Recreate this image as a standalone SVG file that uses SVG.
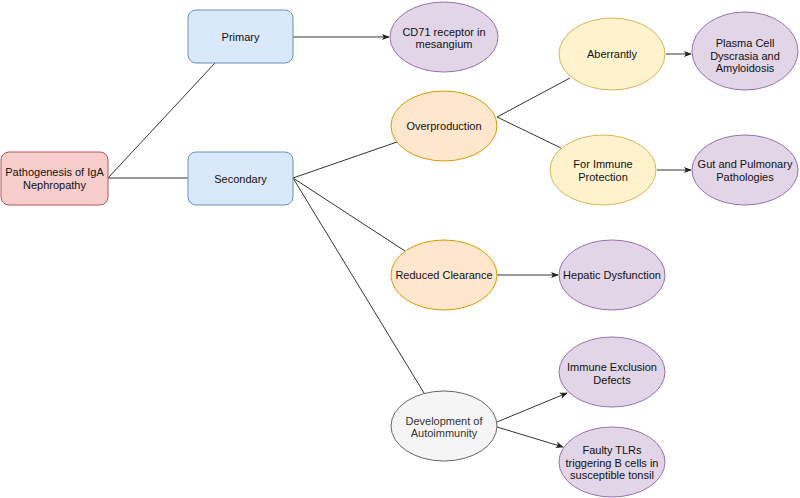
<svg xmlns="http://www.w3.org/2000/svg" width="800" height="498" viewBox="0 0 800 498">
<defs>
<marker id="arr" viewBox="0 0 10 10" refX="9" refY="5" markerWidth="8" markerHeight="8" markerUnits="userSpaceOnUse" orient="auto">
<path d="M0,1 L10,5 L0,9 L2.5,5 Z" fill="#222"/>
</marker>
<style>
text{font-family:"Liberation Sans",Arial,sans-serif;font-size:11px;fill:#111;text-anchor:middle;dominant-baseline:central}
.red{fill:#f8cecc;stroke:#b85450}
.blue{fill:#dae8fc;stroke:#6c8ebf}
.orange{fill:#ffe6cc;stroke:#d79b00}
.yellow{fill:#fff2cc;stroke:#d6b656}
.purple{fill:#e1d5e7;stroke:#9673a6}
.gray{fill:#f5f5f5;stroke:#666666}
.gt{fill:#333}
.edge{stroke:#333;stroke-width:1;fill:none}
.arrow{marker-end:url(#arr)}
</style>
</defs>
<rect width="800" height="498" fill="#fff"/>
<g id="connectors">
<path class="edge" d="M108,178 L215,63"/>
<path class="edge" d="M108,178 L188,178"/>
<path class="edge arrow" d="M293,37 L389,37"/>
<path class="edge" d="M293,178 L397,142"/>
<path class="edge" d="M293,178 L405,251"/>
<path class="edge" d="M293,178 L424,393"/>
<path class="edge" d="M497,117 L570,78"/>
<path class="edge" d="M497,117 L561,148"/>
<path class="edge arrow" d="M666,54 L691,54"/>
<path class="edge arrow" d="M657,170 L691,170"/>
<path class="edge arrow" d="M497,275 L558,275"/>
<path class="edge arrow" d="M497,422 L567,393"/>
<path class="edge arrow" d="M497,427 L563,447"/>
</g>
<g id="pathogenesis">
<rect class="red" x="1" y="152" width="107" height="53" rx="8"/>
<text x="54.5" y="172">Pathogenesis of IgA</text>
<text x="54.5" y="185">Nephropathy</text>
</g>
<g id="primary">
<rect class="blue" x="188" y="10" width="105" height="53" rx="8"/>
<text x="240.5" y="36.5">Primary</text>
</g>
<g id="secondary">
<rect class="blue" x="188" y="152" width="105" height="53" rx="8"/>
<text x="240.5" y="178.5">Secondary</text>
</g>
<g id="cd71">
<ellipse class="purple" cx="444" cy="37" rx="54" ry="35"/>
<text x="444" y="31.5">CD71 receptor in</text>
<text x="444" y="43.5">mesangium</text>
</g>
<g id="overproduction">
<ellipse class="orange" cx="444" cy="126" rx="53" ry="35"/>
<text x="444" y="126">Overproduction</text>
</g>
<g id="aberrantly">
<ellipse class="yellow" cx="612" cy="54" rx="53" ry="36"/>
<text x="612" y="54">Aberrantly</text>
</g>
<g id="plasma">
<ellipse class="purple" cx="745" cy="51" rx="53" ry="39"/>
<text x="745" y="43">Plasma Cell</text>
<text x="745" y="55.5">Dyscrasia and</text>
<text x="745" y="68">Amyloidosis</text>
</g>
<g id="immune-protection">
<ellipse class="yellow" cx="603" cy="170" rx="53" ry="35"/>
<text x="603" y="164">For Immune</text>
<text x="603" y="176.5">Protection</text>
</g>
<g id="gut">
<ellipse class="purple" cx="745" cy="170" rx="53" ry="35"/>
<text x="745" y="164">Gut and Pulmonary</text>
<text x="745" y="176.5">Pathologies</text>
</g>
<g id="reduced">
<ellipse class="orange" cx="444" cy="275" rx="53" ry="35"/>
<text x="444" y="275">Reduced Clearance</text>
</g>
<g id="hepatic">
<ellipse class="purple" cx="612" cy="275" rx="53" ry="35"/>
<text x="612" y="275">Hepatic Dysfunction</text>
</g>
<g id="immune-exclusion">
<ellipse class="purple" cx="612" cy="372" rx="53" ry="35"/>
<text x="612" y="367">Immune Exclusion</text>
<text x="612" y="379.5">Defects</text>
</g>
<g id="autoimmunity">
<ellipse class="gray" cx="444" cy="426" rx="53" ry="35"/>
<text class="gt" x="444" y="420.5">Development of</text>
<text class="gt" x="444" y="433">Autoimmunity</text>
</g>
<g id="faulty">
<ellipse class="purple" cx="612" cy="462" rx="53" ry="35"/>
<text x="612" y="450">Faulty TLRs</text>
<text x="612" y="462.5">triggering B cells in</text>
<text x="612" y="475">susceptible tonsil</text>
</g>
</svg>
